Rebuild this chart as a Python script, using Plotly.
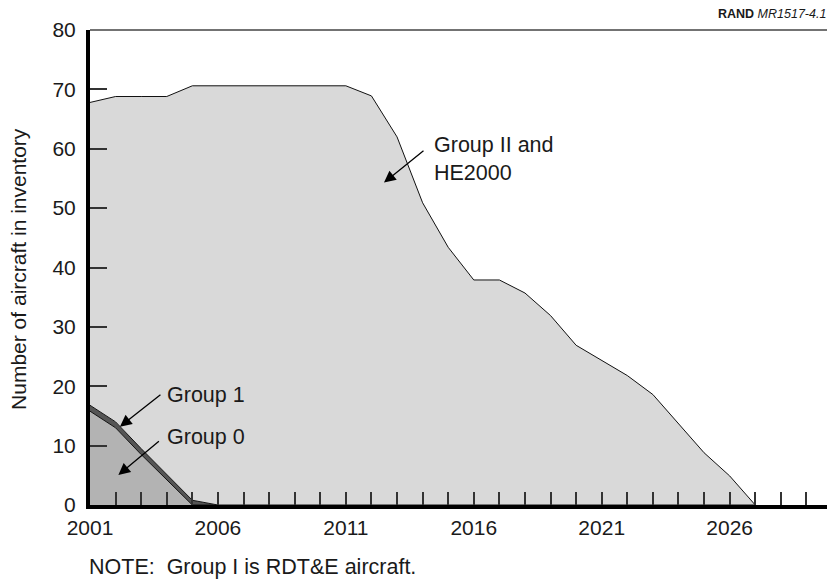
import plotly.graph_objects as go

years = list(range(2001, 2028))
group_0 = [15.8, 13.0, 8.5, 4.2, 0, 0, 0, 0, 0, 0, 0, 0, 0, 0, 0, 0, 0, 0, 0, 0, 0, 0, 0, 0, 0, 0, 0]
group_1 = [1.0, 1.0, 1.0, 1.0, 0.8, 0, 0, 0, 0, 0, 0, 0, 0, 0, 0, 0, 0, 0, 0, 0, 0, 0, 0, 0, 0, 0, 0]
group_ii = [51.0, 54.8, 59.3, 63.6, 69.8, 70.6, 70.6, 70.6, 70.6, 70.6, 70.6, 68.9, 62.0, 50.9,
            43.4, 37.9, 37.9, 35.7, 31.9, 26.9, 24.3, 21.8, 18.6, 13.7, 8.8, 4.9, 0]

y_ticks = [0, 10, 20, 30, 40, 50, 60, 70, 80]
x_label_ticks = [2001, 2006, 2011, 2016, 2021, 2026]

FONT = "Liberation Sans, Arial, Helvetica, sans-serif"
TXT = "#1a1a1a"
FS = 21.5
TFS = 21

fig = go.Figure()
fig.add_trace(go.Scatter(x=years, y=group_0, stackgroup="s", mode="lines",
                         line=dict(color="#111", width=1), fillcolor="#b3b3b3", name="Group 0"))
fig.add_trace(go.Scatter(x=years, y=group_1, stackgroup="s", mode="lines",
                         line=dict(color="#111", width=1), fillcolor="#555555", name="Group 1"))
fig.add_trace(go.Scatter(x=years, y=group_ii, stackgroup="s", mode="lines",
                         line=dict(color="#111", width=1), fillcolor="#d9d9d9", name="Group II and HE2000"))

# page body has an 8px margin, so the figure is drawn 8px smaller to fit the window
fig.update_layout(
    width=827, height=580,
    margin=dict(l=82, r=3, t=22, b=83, autoexpand=False),
    paper_bgcolor="white", plot_bgcolor="white",
    showlegend=False,
    font=dict(family=FONT, size=FS, color=TXT),
    xaxis=dict(range=[2001, 2030], tickmode="array", tickvals=x_label_ticks,
               ticktext=[str(v) for v in x_label_ticks],
               ticks="inside", ticklen=13, tickwidth=1.5, tickcolor="#333",
               minor=dict(dtick=1, tick0=2001, ticks="inside", ticklen=13, tickwidth=1.5, tickcolor="#333"),
               showline=True, linecolor="black", linewidth=4, showgrid=False, zeroline=False,
               tickfont=dict(size=TFS, color=TXT), ticklabelstandoff=1, automargin=False),
    yaxis=dict(range=[0, 80], tickmode="array", tickvals=y_ticks,
               ticks="inside", ticklen=17, tickwidth=1.5, tickcolor="#333",
               showline=True, linecolor="black", linewidth=4, showgrid=False, zeroline=False,
               tickfont=dict(size=TFS, color=TXT), ticklabelstandoff=6, automargin=False),
)

# top and right frame
fig.add_shape(type="line", xref="paper", yref="paper", x0=0, x1=1, y0=1, y1=1,
              line=dict(color="#444", width=1.5))
fig.add_shape(type="line", xref="paper", yref="paper", x0=1, x1=1, y0=0, y1=1,
              line=dict(color="#444", width=1.5))

# y-axis title
fig.add_annotation(xref="paper", yref="paper", x=-0.0957, y=0.497, textangle=-90,
                   text="Number of aircraft in inventory", showarrow=False,
                   xanchor="center", yanchor="middle", font=dict(size=21, color=TXT))

arrow = dict(showarrow=True, arrowhead=2, arrowsize=1.8, arrowwidth=1.3, arrowcolor="black", text="")
fig.add_annotation(x=2012.49, y=54.3, ax=41, ay=-33, **arrow)
fig.add_annotation(x=2002.17, y=13.2, ax=42, ay=-33, **arrow)
fig.add_annotation(x=2002.11, y=5.05, ax=42, ay=-35, **arrow)

fig.add_annotation(x=2014.36, y=58.2, text="Group II and<br>HE2000", showarrow=False,
                   xanchor="left", yanchor="middle", align="left", font=dict(size=FS, color=TXT))
fig.add_annotation(x=2003.93, y=18.5, text="Group 1", showarrow=False,
                   xanchor="left", yanchor="middle", font=dict(size=FS, color=TXT))
fig.add_annotation(x=2003.93, y=11.5, text="Group 0", showarrow=False,
                   xanchor="left", yanchor="middle", font=dict(size=FS, color=TXT))

fig.add_annotation(xref="paper", yref="paper", x=-0.004, y=-0.1305, xanchor="left", yanchor="middle",
                   text="NOTE:  Group I is RDT&amp;E aircraft.", showarrow=False,
                   font=dict(size=FS, color=TXT))
fig.add_annotation(xref="paper", yref="paper", x=0.995, y=1.034, xanchor="right", yanchor="middle",
                   text="<b>RAND</b> <i>MR1517-4.1</i>", showarrow=False,
                   font=dict(size=12.5, color=TXT))

fig.write_html("out.html")
